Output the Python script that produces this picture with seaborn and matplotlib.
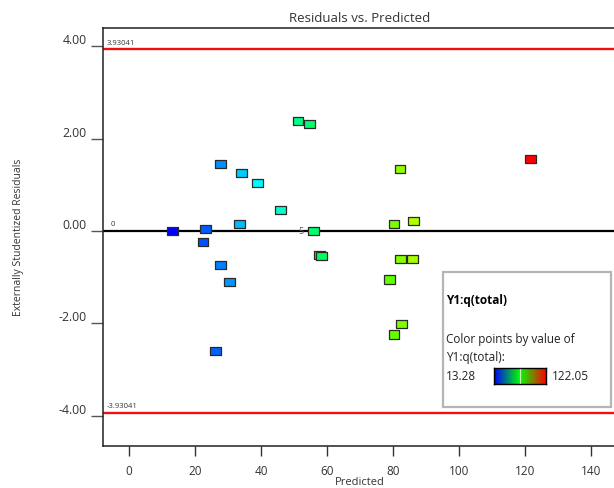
import numpy as np
import pandas as pd
import matplotlib
matplotlib.use("Agg")
import matplotlib.pyplot as plt
from matplotlib.colors import LinearSegmentedColormap, Normalize
from matplotlib.patches import Rectangle
import seaborn as sns

# Diagnostics: externally studentized residuals against predicted values
predicted = [13.3, 23.1, 22.4, 27.7, 34.1, 38.9, 46.0, 33.4, 27.7, 30.5, 26.3,
             51.2, 54.7, 56.0, 57.6, 58.2, 82.1, 80.3, 86.1, 82.2, 85.8, 78.8,
             82.6, 80.3, 121.6]
residuals = [0.00, 0.04, -0.24, 1.45, 1.26, 1.03, 0.45, 0.16, -0.73, -1.10, -2.60,
             2.38, 2.32, 0.00, -0.52, -0.55, 1.34, 0.15, 0.21, -0.61, -0.61, -1.05,
             -2.01, -2.24, 1.56]
actual = [13.28, 23.3, 22.2, 28.9, 35.1, 39.7, 46.4, 33.5, 27.1, 29.6, 24.2,
          53.1, 56.6, 56.0, 57.2, 57.8, 83.2, 80.4, 86.3, 81.7, 85.3, 78.0,
          81.0, 78.5, 122.05]
limit = 3.93041
y_min, y_max = 13.28, 122.05
x_ticks = [0, 20, 40, 60, 80, 100, 120, 140]
y_ticks = [-4, -2, 0, 2, 4]

df = pd.DataFrame({"Predicted": predicted, "Residual": residuals, "Y1": actual})

sns.set_theme(style="white")
plt.rcParams["font.family"] = ["Open Sans", "DejaVu Sans"]

fig = plt.figure(figsize=(6.14, 4.89), dpi=100)
ax = fig.add_axes([0.1678, 0.0867, 0.835, 0.8546])

point_cmap = LinearSegmentedColormap.from_list(
    "rainbow_bg", ["#0000ff", "#00ffff", "#00ff00", "#ffff00", "#ff0000"])
bar_cmap = LinearSegmentedColormap.from_list(
    "bgr", ["#0000ff", "#00ff00", "#ff0000"])

# reference lines
ax.axhline(limit, color="#ee1111", lw=1.7, zorder=1)
ax.axhline(-limit, color="#ee1111", lw=1.7, zorder=1)
ax.axhline(0, color="black", lw=1.6, zorder=1)

rect_marker = [(-0.6, -0.45), (0.6, -0.45), (0.6, 0.45), (-0.6, 0.45), (-0.6, -0.45)]
sns.scatterplot(data=df, x="Predicted", y="Residual", hue="Y1",
                palette=point_cmap, hue_norm=(y_min, y_max), marker=rect_marker,
                s=60, edgecolor="#2a2a2a", linewidth=0.9, legend=False,
                ax=ax, zorder=3)

ax.set_xlim(-7.84, 147.4)
ax.set_ylim(-4.645, 4.40)
ax.set_xticks(x_ticks)
ax.set_xticklabels([str(t) for t in x_ticks])
ax.set_yticks(y_ticks)
ax.set_yticklabels([f"{t:.2f}" for t in y_ticks])
for lab in ax.get_yticklabels():
    lab.set_va("bottom")

ax.tick_params(axis="x", direction="out", length=7.2, width=1.0,
               colors="#333333", labelsize=8.5, pad=6, bottom=True)
ax.tick_params(axis="y", direction="out", length=8.6, width=1.0,
               colors="#555555", labelsize=8.8, pad=3.2, left=True)
for lab in ax.get_xticklabels() + ax.get_yticklabels():
    lab.set_color("#333333")

for side in ["left", "bottom", "top"]:
    ax.spines[side].set_color("#222222")
    ax.spines[side].set_linewidth(1.1)
ax.spines["right"].set_visible(False)

ax.set_title("Residuals vs. Predicted", fontsize=9.5, color="#333333", pad=5)
ax.set_xlabel("Predicted", fontsize=8, color="#333333", va="center")
ax.xaxis.set_label_coords(0.5, -0.086)
ax.set_ylabel("Externally Studentized Residuals", fontsize=7.5,
              color="#333333", labelpad=25)

# line annotations
ax.text(-6.6, limit + 0.08, "3.93041", fontsize=5.5, color="#333333",
        va="bottom", ha="left")
ax.text(-6.6, -limit + 0.08, "-3.93041", fontsize=5.5, color="#333333",
        va="bottom", ha="left")
ax.text(-5.5, 0.08, "0", fontsize=5.5, color="#333333", va="bottom", ha="left")
ax.text(53.0, 0.0, "5", fontsize=6.5, color="#555555", va="center", ha="right")

# colour legend box
box = Rectangle((442.7 / 614, 1 - 408 / 489), (611 - 442.7) / 614,
                (408 - 272.7) / 489, transform=fig.transFigure,
                facecolor="white", edgecolor="#b5b5b5", lw=1.6, zorder=10)
fig.patches.append(box)
fig.text(446 / 614, 1 - 301 / 489, "Y1:q(total)", fontsize=8.5,
         fontweight="bold", color="black", va="center", zorder=11)
fig.text(446 / 614, 1 - 340 / 489, "Color points by value of", fontsize=8.5,
         color="#222222", va="center", zorder=11)
fig.text(446 / 614, 1 - 358 / 489, "Y1:q(total):", fontsize=8.5,
         color="#222222", va="center", zorder=11)
fig.text(446 / 614, 1 - 376.5 / 489, f"{y_min:.2f}", fontsize=8.5,
         color="#222222", va="center", zorder=11)
fig.text(552 / 614, 1 - 376.5 / 489, f"{y_max:.2f}", fontsize=8.5,
         color="#222222", va="center", zorder=11)

cax = fig.add_axes([494 / 614, 1 - 385 / 489, 52 / 614, 16.5 / 489], zorder=12)
grad = np.linspace(y_min, y_max, 256).reshape(1, -1)
cax.imshow(grad, aspect="auto", cmap=bar_cmap,
           norm=Normalize(y_min, y_max), extent=(y_min, y_max, 0, 1))
cax.axvline((y_min + y_max) / 2, color="#ccffcc", lw=0.8)
cax.set_xticks([])
cax.set_yticks([])
for sp in cax.spines.values():
    sp.set_visible(True)
    sp.set_color("black")
    sp.set_linewidth(1.0)

fig.savefig("out.png", dpi=100)
